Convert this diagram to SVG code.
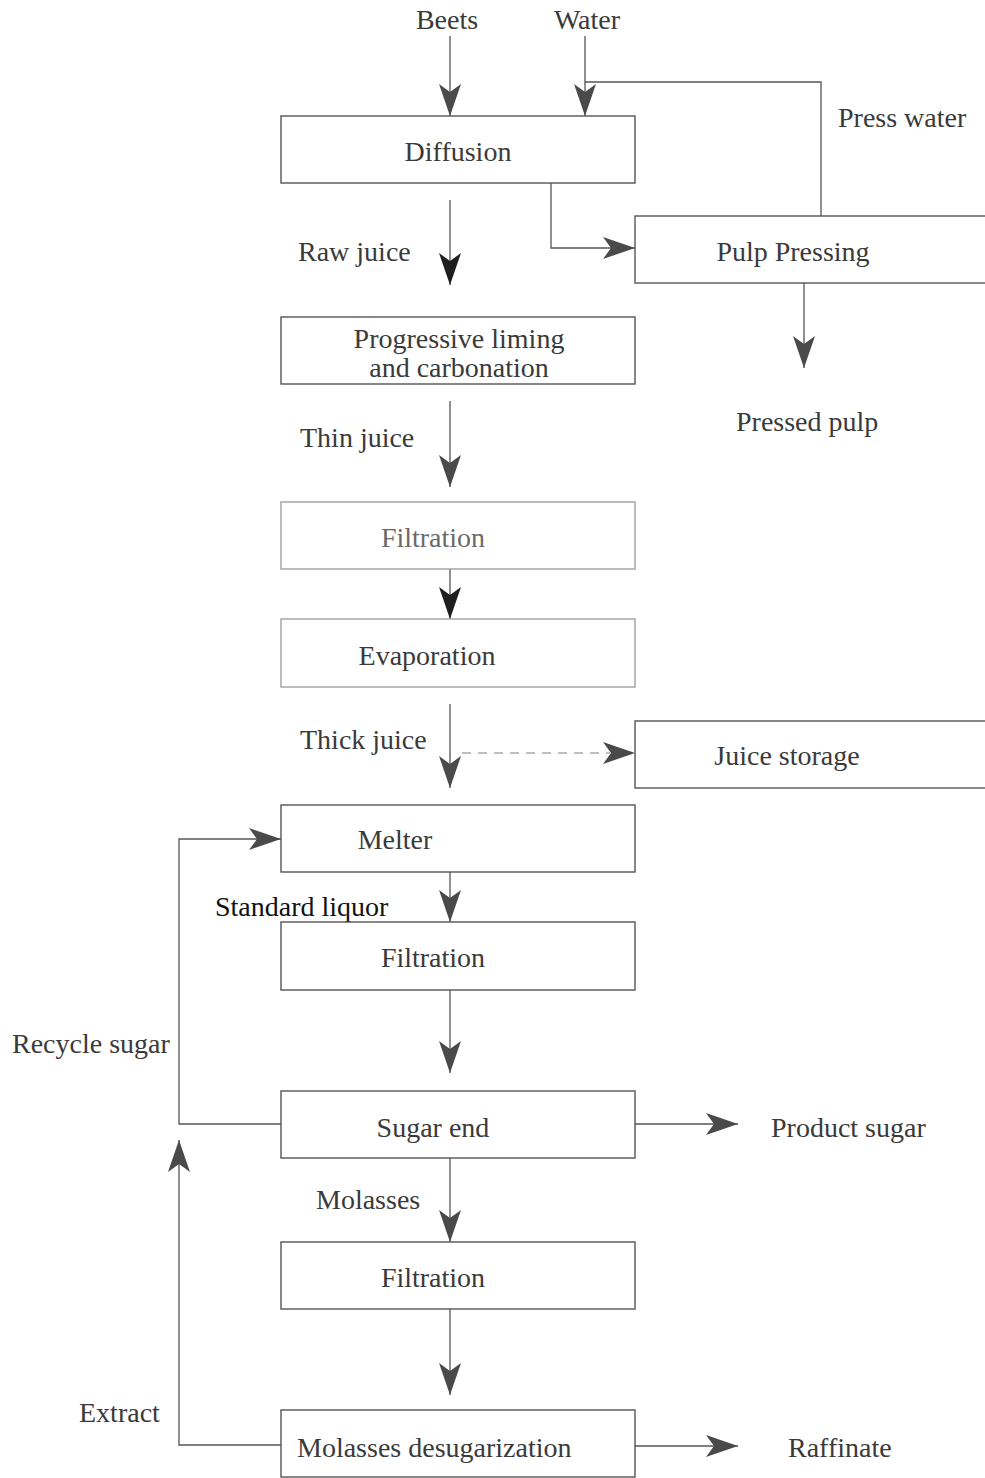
<svg xmlns="http://www.w3.org/2000/svg" width="985" height="1478" viewBox="0 0 985 1478">
<style>
text{font-family:"Liberation Serif","Times New Roman",serif;font-size:28px;fill:#3a3a3a}
.m{text-anchor:middle}
.lt{fill:#6a6a6a}
.blk{fill:#111}
.box{fill:#fff;stroke:#555;stroke-width:1.4}
.lbox{fill:#fff;stroke:#a0a0a0;stroke-width:1.4}
.c{fill:none;stroke:#555;stroke-width:1.3}
.dash{fill:none;stroke:#aaa;stroke-width:1.3;stroke-dasharray:9,7}
</style>
<defs>
<marker id="ah" markerUnits="userSpaceOnUse" markerWidth="34" markerHeight="24" refX="32" refY="11" orient="auto">
<path d="M0,0 L32,11 L0,22 L8,11 Z" fill="#4a4a4a"/>
</marker>
<marker id="ahk" markerUnits="userSpaceOnUse" markerWidth="34" markerHeight="24" refX="32" refY="11" orient="auto">
<path d="M0,0 L32,11 L0,22 L8,11 Z" fill="#1e1e1e"/>
</marker>
</defs>
<rect width="985" height="1478" fill="#fff"/>
<g id="connectors">
<line class="c" x1="450" y1="36" x2="450" y2="116" marker-end="url(#ah)"/>
<line class="c" x1="585" y1="36" x2="585" y2="116" marker-end="url(#ah)"/>
<polyline class="c" points="821,216 821,82 585,82"/>
<polyline class="c" points="551,183 551,248 635,248" marker-end="url(#ah)"/>
<line class="c" x1="450" y1="200" x2="450" y2="285" stroke="#222" marker-end="url(#ahk)"/>
<line class="c" x1="804" y1="283" x2="804" y2="368" marker-end="url(#ah)"/>
<line class="c" x1="450" y1="401" x2="450" y2="487" marker-end="url(#ah)"/>
<line class="c" x1="450" y1="569" x2="450" y2="619" marker-end="url(#ahk)"/>
<line class="c" x1="450" y1="704" x2="450" y2="788" marker-end="url(#ah)"/>
<line class="dash" x1="462" y1="753" x2="610" y2="753"/>
<line x1="608" y1="753" x2="635" y2="753" stroke="none" marker-end="url(#ah)"/>
<line class="c" x1="450" y1="872" x2="450" y2="922" marker-end="url(#ah)"/>
<line class="c" x1="450" y1="990" x2="450" y2="1073" marker-end="url(#ah)"/>
<polyline class="c" points="281,1124 179,1124 179,839 281,839" marker-end="url(#ah)"/>
<line class="c" x1="635" y1="1124" x2="738" y2="1124" marker-end="url(#ah)"/>
<line class="c" x1="450" y1="1158" x2="450" y2="1242" marker-end="url(#ah)"/>
<line class="c" x1="450" y1="1309" x2="450" y2="1395" marker-end="url(#ah)"/>
<polyline class="c" points="281,1445 179,1445 179,1140" marker-end="url(#ah)"/>
<line class="c" x1="635" y1="1446" x2="738" y2="1446" marker-end="url(#ah)"/>
</g>
<g id="labels">
<text class="m" x="447" y="29">Beets</text>
<text class="m" x="587" y="29">Water</text>
<text x="838" y="127">Press water</text>
<text x="298" y="261">Raw juice</text>
<text x="736" y="431">Pressed pulp</text>
<text x="300" y="447">Thin juice</text>
<text x="300" y="749">Thick juice</text>
<text class="blk" x="215" y="916">Standard liquor</text>
<text x="12" y="1053">Recycle sugar</text>
<text x="771" y="1137">Product sugar</text>
<text x="316" y="1209">Molasses</text>
<text x="79" y="1422">Extract</text>
<text x="788" y="1457">Raffinate</text>
</g>
<g id="diffusion"><rect class="box" x="281" y="116" width="354" height="67"/><text class="m" x="458" y="161">Diffusion</text></g>
<g id="pulp-pressing"><rect class="box" x="635" y="216" width="360" height="67"/><text class="m" x="793" y="261">Pulp Pressing</text></g>
<g id="liming"><rect class="box" x="281" y="317" width="354" height="67"/><text class="m" x="459" y="348">Progressive liming</text><text class="m" x="459" y="377">and carbonation</text></g>
<g id="filtration1"><rect class="lbox" x="281" y="502" width="354" height="67"/><text class="m lt" x="433" y="547">Filtration</text></g>
<g id="evaporation"><rect class="lbox" x="281" y="619" width="354" height="68"/><text class="m" x="427" y="665">Evaporation</text></g>
<g id="juice-storage"><rect class="box" x="635" y="721" width="360" height="67"/><text class="m" x="787" y="765">Juice storage</text></g>
<g id="melter"><rect class="box" x="281" y="805" width="354" height="67"/><text class="m" x="395" y="849">Melter</text></g>
<g id="filtration2"><rect class="box" x="281" y="922" width="354" height="68"/><text class="m" x="433" y="967">Filtration</text></g>
<g id="sugar-end"><rect class="box" x="281" y="1091" width="354" height="67"/><text class="m" x="433" y="1137">Sugar end</text></g>
<g id="filtration3"><rect class="box" x="281" y="1242" width="354" height="67"/><text class="m" x="433" y="1287">Filtration</text></g>
<g id="desugarization"><rect class="box" x="281" y="1410" width="354" height="67"/><text x="297" y="1457">Molasses desugarization</text></g>
</svg>
